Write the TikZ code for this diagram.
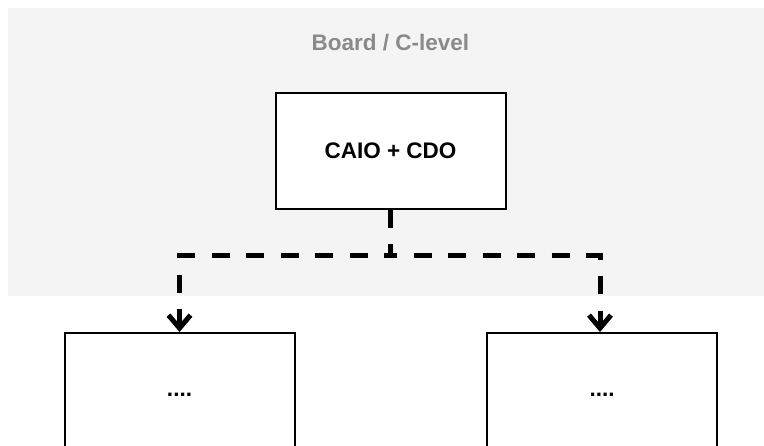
\documentclass[tikz,border=0pt]{standalone}
\usepackage{fontspec}
\setmainfont{Liberation Sans}
\usetikzlibrary{arrows.meta}
\definecolor{boardbg}{HTML}{F4F4F4}
\definecolor{titlegrey}{HTML}{8A8A8A}
\begin{document}
\begin{tikzpicture}[x=1pt,y=-1pt,
  labelfont/.style={font=\bfseries\fontsize{22.5}{27}\selectfont},
  unit/.style={labelfont, draw=black, line width=2pt, fill=white,
    minimum width=230pt, inner sep=0pt},
  link/.style={line width=5pt, dash pattern=on 18pt off 16.5pt,
    -{Straight Barb[length=13pt,width=22pt]}}
]
\useasboundingbox (0,0) rectangle (764,446);
\clip (0,0) rectangle (764,446);
% board level band
\fill[boardbg] (8,8) rectangle (764,296);
\node[labelfont, text=titlegrey] (title) at (390.5,42.5) {Board / C-level};
% org units
\node[unit, minimum height=116pt] (lead) at (390.5,151) {CAIO + CDO};
\node[unit, minimum height=124pt] (left) at (179.5,395) {....};
\node[unit, minimum height=124pt] (right) at (602,395) {....};
% reporting lines
\draw[link] (lead.south) -- ++(0,46) -| (left.north);
\draw[link] (lead.south) -- ++(0,46) -| ([xshift=-2pt]right.north);
\end{tikzpicture}
\end{document}
